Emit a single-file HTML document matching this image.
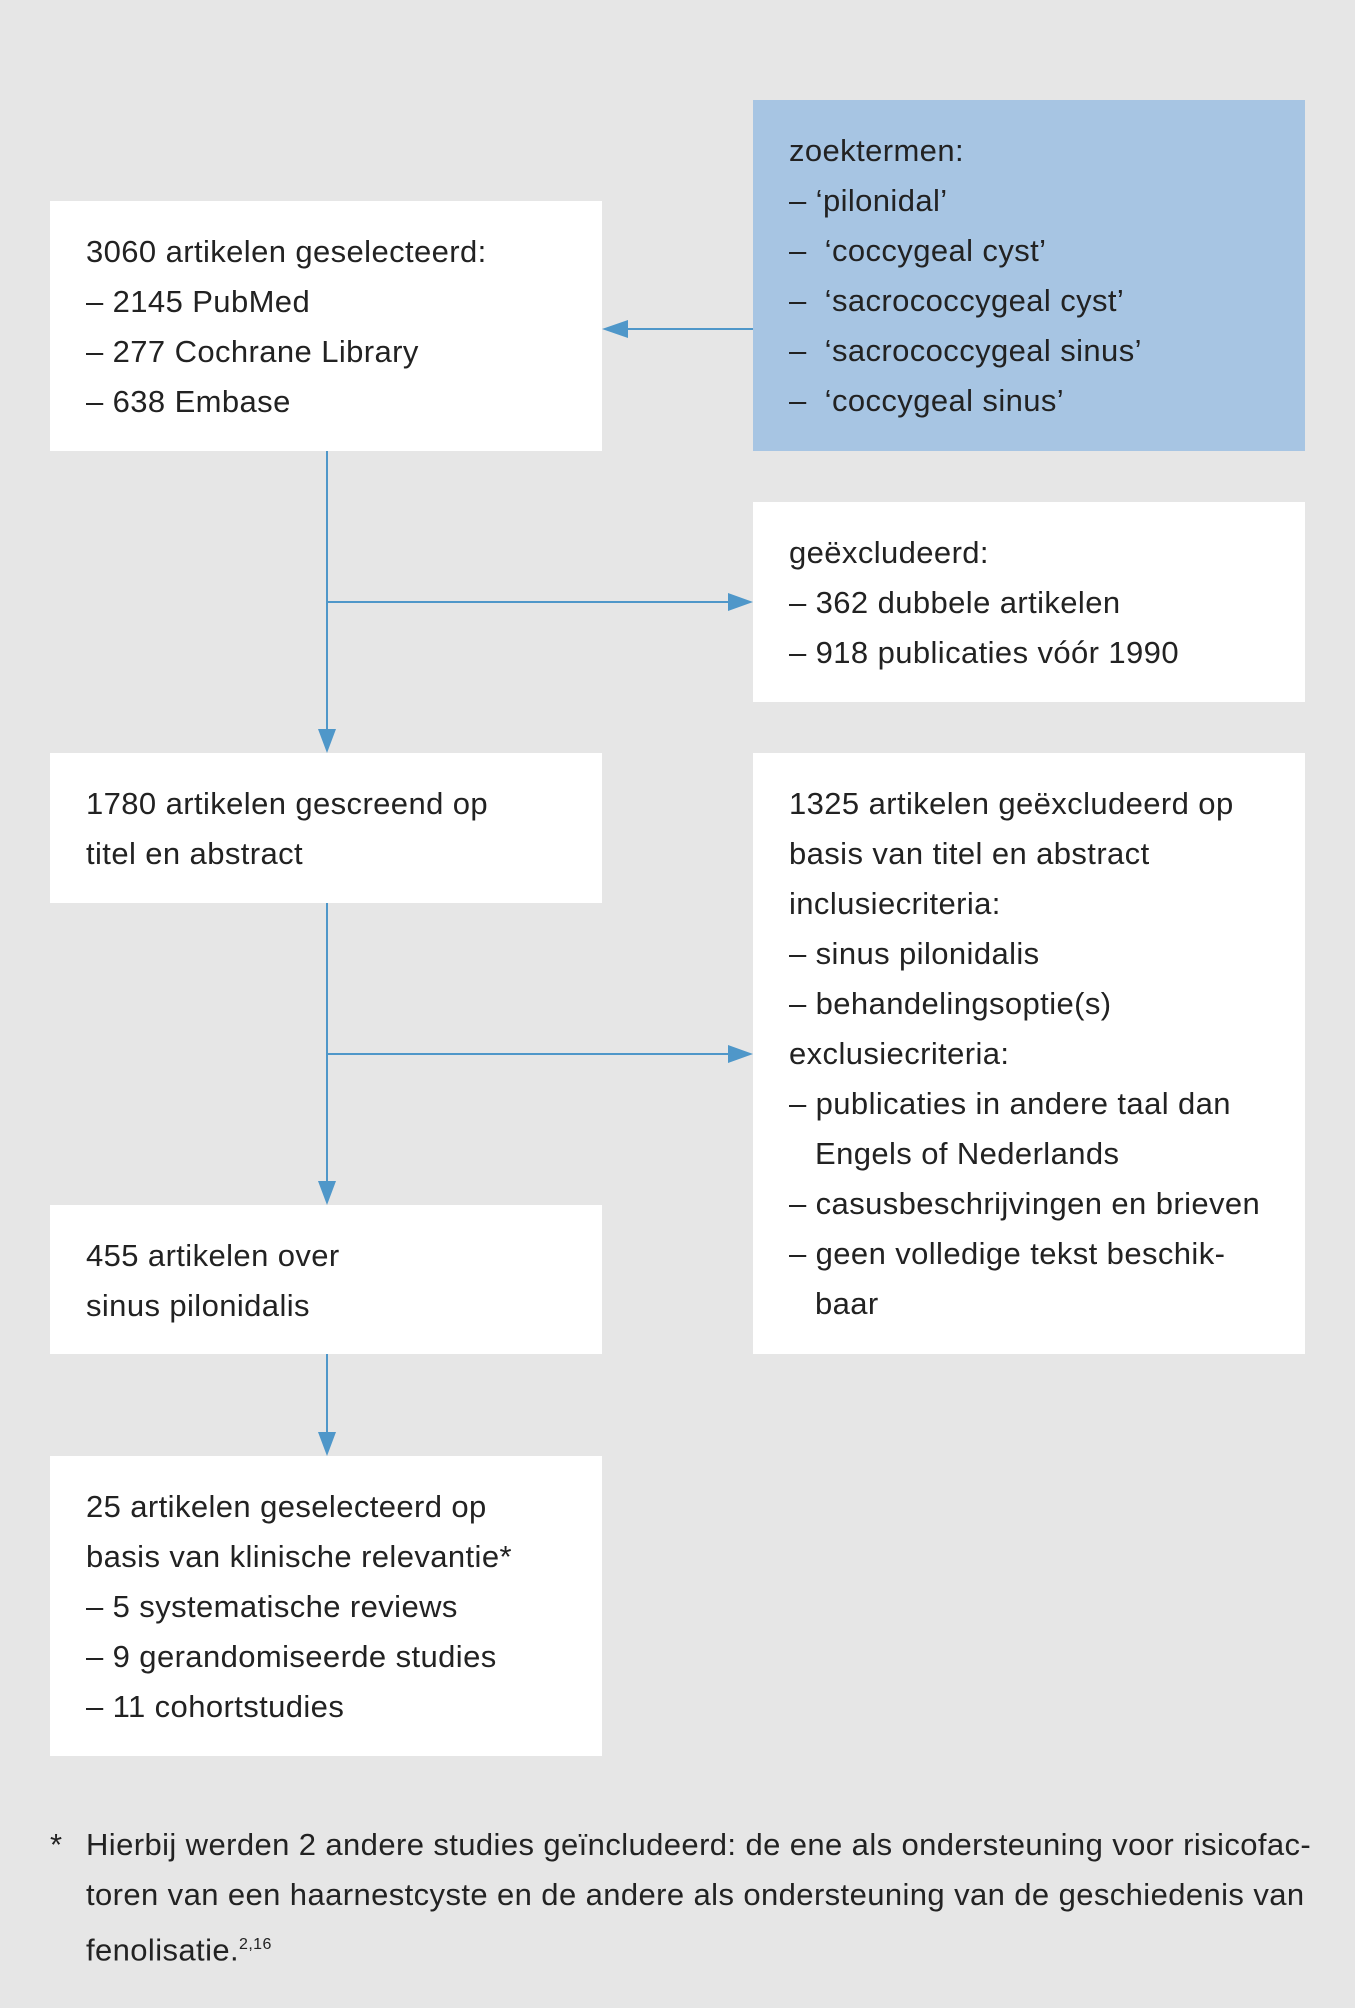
<!DOCTYPE html>
<html><head><meta charset="utf-8"><style>
body{margin:0;background:#e6e6e6;width:1355px;height:2008px;position:relative;font-family:"Liberation Sans","DejaVu Sans",sans-serif;color:#222;overflow:hidden}
.b{position:absolute;background:#fff;box-sizing:border-box;padding:26px 10px 0 36px;font-size:31px;letter-spacing:0.4px;line-height:50px;white-space:nowrap}
.blue{background:#a7c5e3}
.i{padding-left:26px}
.fn{position:absolute;left:50px;top:1820px;font-size:31px;letter-spacing:0.4px;line-height:50px;width:1300px;white-space:nowrap}
</style></head><body>
<div class="b" style="left:50px;top:201px;width:552px;height:250px">3060 artikelen geselecteerd:<br>– 2145 PubMed<br>– 277 Cochrane Library<br>– 638 Embase</div>
<div class="b blue" style="left:753px;top:100px;width:552px;height:351px">zoektermen:<br>– ‘pilonidal’<br>–&nbsp; ‘coccygeal cyst’<br>–&nbsp; ‘sacrococcygeal cyst’<br>–&nbsp; ‘sacrococcygeal sinus’<br>–&nbsp; ‘coccygeal sinus’</div>
<div class="b" style="left:753px;top:502px;width:552px;height:200px">geëxcludeerd:<br>– 362 dubbele artikelen<br>– 918 publicaties vóór 1990</div>
<div class="b" style="left:50px;top:753px;width:552px;height:150px">1780 artikelen gescreend op<br>titel en abstract</div>
<div class="b" style="left:753px;top:753px;width:552px;height:601px">1325 artikelen geëxcludeerd op<br>basis van titel en abstract<br>inclusiecriteria:<br>– sinus pilonidalis<br>– behandelingsoptie(s)<br>exclusiecriteria:<br>– publicaties in andere taal dan<br><span class="i">Engels of Nederlands</span><br>– casusbeschrijvingen en brieven<br>– geen volledige tekst beschik-<br><span class="i">baar</span></div>
<div class="b" style="left:50px;top:1205px;width:552px;height:149px">455 artikelen over<br>sinus pilonidalis</div>
<div class="b" style="left:50px;top:1456px;width:552px;height:300px">25 artikelen geselecteerd op<br>basis van klinische relevantie*<br>– 5 systematische reviews<br>– 9 gerandomiseerde studies<br>– 11 cohortstudies</div>
<svg style="position:absolute;left:0;top:0" width="1355" height="2008">
<g stroke="#4f97c9" stroke-width="2" fill="none">
<line x1="753" y1="329" x2="620" y2="329"/>
<line x1="327" y1="451" x2="327" y2="732"/>
<line x1="327" y1="602" x2="732" y2="602"/>
<line x1="327" y1="903" x2="327" y2="1184"/>
<line x1="327" y1="1054" x2="732" y2="1054"/>
<line x1="327" y1="1354" x2="327" y2="1435"/>
</g>
<g fill="#4f97c9">
<polygon points="602,329 628,320 628,338"/>
<polygon points="327,753 318,729 336,729"/>
<polygon points="753,602 728,593 728,611"/>
<polygon points="327,1205 318,1181 336,1181"/>
<polygon points="753,1054 728,1045 728,1063"/>
<polygon points="327,1456 318,1432 336,1432"/>
</g></svg>
<div class="fn"><span style="position:absolute;left:0">*</span><div style="margin-left:36px">Hierbij werden 2 andere studies geïncludeerd: de ene als ondersteuning voor risicofac-<br>toren van een haarnestcyste en de andere als ondersteuning van de geschiedenis van<br>fenolisatie.<sup style="font-size:16px">2,16</sup></div></div>
</body></html>
